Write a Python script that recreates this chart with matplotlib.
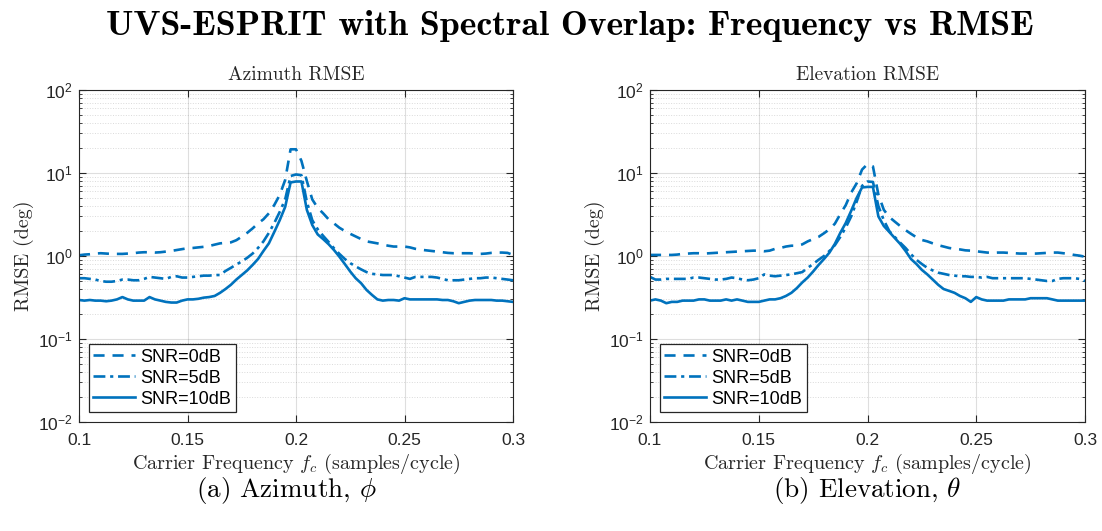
import numpy as np
import matplotlib
matplotlib.use('Agg')
import matplotlib.pyplot as plt
from matplotlib.ticker import LogLocator, NullLocator, FixedLocator, FixedFormatter

plt.rcParams['font.family'] = ['Liberation Sans', 'DejaVu Sans']
plt.rcParams['mathtext.fontset'] = 'cm'

# ------------------------------------------------------------
# Data (81 samples, 0.1 .. 0.3)
# ------------------------------------------------------------
freq = np.round(0.1 + 0.0025 * np.arange(81), 4)

az_0dB = [1.02, 1.04, 1.05, 1.07, 1.08, 1.07, 1.06, 1.06, 1.06, 1.07,
          1.08, 1.10, 1.11, 1.11, 1.10, 1.11, 1.13, 1.15, 1.18, 1.21,
          1.24, 1.25, 1.27, 1.29, 1.32, 1.37, 1.42, 1.44, 1.46, 1.55,
          1.71, 1.90, 2.15, 2.47, 2.77, 3.27, 4.12, 5.44, 8.23, 19.3,
          19.3, 14.0, 8.0, 4.8, 3.8, 3.27, 2.77, 2.47, 2.19, 2.0,
          1.85, 1.72, 1.60, 1.50, 1.46, 1.42, 1.37, 1.33, 1.30, 1.30,
          1.30, 1.27, 1.22, 1.19, 1.17, 1.15, 1.13, 1.11, 1.09, 1.08,
          1.08, 1.08, 1.08, 1.07, 1.06, 1.07, 1.09, 1.10, 1.10, 1.09,
          1.03]
az_5dB = [0.54, 0.54, 0.53, 0.52, 0.50, 0.49, 0.49, 0.50, 0.52, 0.52,
          0.51, 0.51, 0.53, 0.56, 0.55, 0.54, 0.53, 0.56, 0.57, 0.55,
          0.55, 0.56, 0.57, 0.58, 0.58, 0.59, 0.59, 0.66, 0.72, 0.79,
          0.86, 0.95, 1.07, 1.25, 1.50, 1.90, 2.50, 3.40, 4.80, 9.2,
          9.6, 9.4, 4.5, 2.7, 2.1, 1.75, 1.48, 1.24, 1.06, 0.92,
          0.82, 0.75, 0.69, 0.64, 0.61, 0.60, 0.59, 0.59, 0.59, 0.57,
          0.55, 0.53, 0.56, 0.56, 0.56, 0.56, 0.55, 0.53, 0.51, 0.51,
          0.51, 0.52, 0.53, 0.54, 0.54, 0.55, 0.55, 0.54, 0.53, 0.52,
          0.51]
az_10dB = [0.295, 0.29, 0.295, 0.29, 0.29, 0.285, 0.29, 0.30, 0.32, 0.30,
           0.29, 0.29, 0.29, 0.32, 0.30, 0.29, 0.28, 0.275, 0.275, 0.29,
           0.30, 0.30, 0.305, 0.315, 0.32, 0.33, 0.36, 0.40, 0.45, 0.52,
           0.59, 0.67, 0.78, 0.92, 1.15, 1.42, 1.95, 2.7, 3.9, 7.7,
           7.9, 7.9, 3.6, 2.36, 1.82, 1.60, 1.39, 1.18, 0.98, 0.80,
           0.65, 0.54, 0.47, 0.39, 0.34, 0.30, 0.29, 0.295, 0.295, 0.29,
           0.31, 0.30, 0.30, 0.30, 0.30, 0.30, 0.30, 0.295, 0.295, 0.285,
           0.27, 0.28, 0.29, 0.295, 0.295, 0.295, 0.295, 0.29, 0.29, 0.285,
           0.28]

el_0dB = [1.03, 1.03, 1.03, 1.03, 1.03, 1.04, 1.06, 1.07, 1.08, 1.08,
          1.07, 1.08, 1.09, 1.10, 1.11, 1.12, 1.13, 1.14, 1.15, 1.16,
          1.16, 1.14, 1.16, 1.22, 1.25, 1.30, 1.33, 1.33, 1.38, 1.50,
          1.60, 1.70, 1.88, 2.10, 2.45, 3.20, 4.10, 5.80, 7.50, 11.0,
          12.8, 12.0, 5.5, 3.6, 2.95, 2.6, 2.3, 2.05, 1.85, 1.68,
          1.56, 1.50, 1.42, 1.35, 1.30, 1.25, 1.22, 1.20, 1.17, 1.16,
          1.14, 1.12, 1.10, 1.09, 1.10, 1.10, 1.09, 1.08, 1.07, 1.07,
          1.07, 1.07, 1.08, 1.09, 1.10, 1.10, 1.08, 1.06, 1.03, 1.01,
          0.98]
el_5dB = [0.56, 0.52, 0.52, 0.53, 0.53, 0.53, 0.53, 0.53, 0.55, 0.55,
          0.54, 0.53, 0.52, 0.52, 0.53, 0.55, 0.54, 0.52, 0.51, 0.52,
          0.54, 0.60, 0.58, 0.57, 0.58, 0.59, 0.60, 0.62, 0.64, 0.72,
          0.80, 0.90, 1.00, 1.15, 1.35, 1.70, 2.20, 3.00, 4.50, 7.0,
          7.9, 7.8, 4.0, 2.7, 2.0, 1.7, 1.45, 1.25, 1.05, 0.90,
          0.80, 0.72, 0.67, 0.63, 0.61, 0.59, 0.58, 0.57, 0.57, 0.56,
          0.56, 0.55, 0.56, 0.54, 0.54, 0.54, 0.54, 0.54, 0.54, 0.54,
          0.53, 0.52, 0.51, 0.50, 0.50, 0.53, 0.54, 0.54, 0.54, 0.53,
          0.50]
el_10dB = [0.29, 0.30, 0.29, 0.27, 0.28, 0.28, 0.29, 0.29, 0.29, 0.30,
           0.30, 0.29, 0.29, 0.29, 0.30, 0.29, 0.30, 0.29, 0.28, 0.28,
           0.28, 0.29, 0.30, 0.30, 0.31, 0.33, 0.36, 0.41, 0.48, 0.55,
           0.65, 0.78, 0.92, 1.10, 1.40, 1.90, 2.50, 3.50, 5.00, 6.7,
           6.8, 6.8, 3.0, 2.3, 1.95, 1.65, 1.40, 1.15, 0.92, 0.80,
           0.68, 0.60, 0.52, 0.45, 0.40, 0.38, 0.36, 0.33, 0.31, 0.28,
           0.32, 0.30, 0.29, 0.29, 0.29, 0.29, 0.30, 0.30, 0.30, 0.30,
           0.31, 0.31, 0.31, 0.31, 0.30, 0.29, 0.29, 0.29, 0.29, 0.29,
           0.29]

snr_labels = ['SNR=0dB', 'SNR=5dB', 'SNR=10dB']
xticks = [0.1, 0.15, 0.2, 0.25, 0.3]
xtick_labels = ['0.1', '0.15', '0.2', '0.25', '0.3']

line_color = '#0072BD'
styles = [(0, (4.2, 3.0)), (0, (4.5, 1.8, 1.2, 1.8)), '-']
ink = '0.15'

fig = plt.figure(figsize=(11.02, 5.31), dpi=100)
ax1 = fig.add_axes([79 / 1102, 109 / 531, 434 / 1102, 332 / 531])
ax2 = fig.add_axes([650 / 1102, 109 / 531, 435 / 1102, 332 / 531])


def draw_panel(ax, series, title):
    for vals, ls, lab in zip(series, styles, snr_labels):
        ax.plot(freq, vals, color=line_color, lw=1.9, ls=ls, label=lab)
    ax.set_yscale('log')
    ax.set_xlim(0.1, 0.3)
    ax.set_ylim(1e-2, 1e2)
    ax.xaxis.set_major_locator(FixedLocator(xticks))
    ax.xaxis.set_major_formatter(FixedFormatter(xtick_labels))
    ax.xaxis.set_minor_locator(NullLocator())
    ax.yaxis.set_major_locator(LogLocator(base=10, numticks=10))
    ax.yaxis.set_minor_locator(LogLocator(base=10, subs=np.arange(2, 10), numticks=10))
    ax.grid(True, which='major', color=ink, alpha=0.15, lw=0.8)
    ax.grid(True, which='minor', axis='y', color=ink, alpha=0.17, lw=0.7, ls=':')
    ax.set_axisbelow(True)
    ax.tick_params(which='both', direction='in', top=True, right=True,
                   color=ink, labelcolor=ink, labelsize=12.5)
    ax.tick_params(axis='x', which='major', pad=8)
    ax.tick_params(axis='y', which='major', pad=4.5)
    ax.tick_params(which='major', length=5, width=0.8)
    ax.tick_params(which='minor', length=2.5, width=0.6)
    for sp in ax.spines.values():
        sp.set_color(ink)
        sp.set_linewidth(0.8)
    ax.set_title(title, family='cmr10', fontsize=14, color=ink, pad=7)
    ax.set_xlabel(r'Carrier Frequency $f_c$ (samples/cycle)', family='cmr10',
                  fontsize=14.5, color=ink, math_fontfamily='cm', labelpad=3)
    ax.set_ylabel('RMSE (deg)', family='cmr10', fontsize=14.5, color=ink, labelpad=3)
    leg = ax.legend(loc='lower left', fontsize=13, fancybox=False, framealpha=1,
                    edgecolor=ink, handlelength=2.3, handletextpad=0.3,
                    labelspacing=0.22, borderpad=0.25, borderaxespad=0.55)
    leg.get_frame().set_linewidth(0.9)


draw_panel(ax1, [az_0dB, az_5dB, az_10dB], 'Azimuth RMSE')
draw_panel(ax2, [el_0dB, el_5dB, el_10dB], 'Elevation RMSE')

fig.text(570 / 1102, 1 - 26 / 531, 'UVS-ESPRIT with Spectral Overlap: Frequency vs RMSE',
         family='cmb10', fontsize=25.8, ha='center', va='center')
fig.text((79 + 207) / 1102, 1 - 491 / 531, r'(a) Azimuth, $\phi$', family='cmr10',
         fontsize=19.5, ha='center', va='center', math_fontfamily='cm')
fig.text((650 + 217) / 1102, 1 - 491 / 531, r'(b) Elevation, $\theta$', family='cmr10',
         fontsize=19.5, ha='center', va='center', math_fontfamily='cm')

fig.savefig('out.png', dpi=100)
